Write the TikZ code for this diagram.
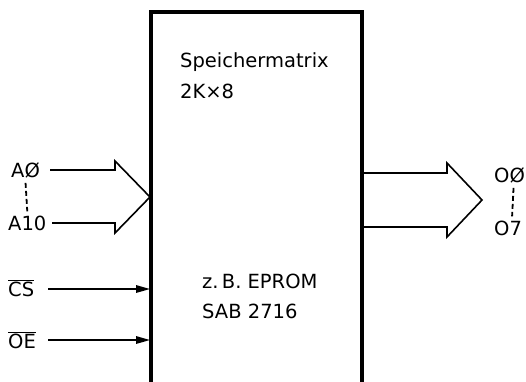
\documentclass[tikz,border=0pt]{standalone}
\usepackage{fontspec}
\setmainfont{DejaVu Sans}
\usepackage{tikz}
\usetikzlibrary{arrows.meta,positioning,calc}
\newcommand{\negsig}[1]{$\overline{\mbox{#1}}$}

\begin{document}
\begin{tikzpicture}[
  x=1pt, y=-1pt,
  every node/.style = {font=\fontsize{19.5}{22}\selectfont, inner sep=0pt},
  box/.style = {draw, line width=3.2pt},
  bus/.style = {draw, line width=1.6pt, line join=miter},
  wire/.style = {draw, line width=1.6pt, -{Triangle[length=14pt,width=7.5pt]}},
  dots/.style = {draw, line width=1.8pt, dash pattern=on 5pt off 3pt}
  ]
\useasboundingbox (0,0) rectangle (526,381);

% memory block, open at the bottom
\coordinate (bl) at (151,395);
\coordinate (tl) at (151,12);
\coordinate (tr) at (362,12);
\coordinate (br) at (362,395);
\draw[box] (bl) -- (tl) -- (tr) -- (br);

\node[anchor=base west] (title) at (180,67) {Speichermatrix};
\node[anchor=base west] (size) at (180,98) {2K×8};
\node[anchor=base west] (type) at (202,288) {z.\,B. EPROM};
\node[anchor=base west] (part) at (202,318) {SAB 2716};

% address inputs
\node[anchor=base west] (a0) at (11,177) {AØ};
\node[anchor=base west] (a10) at (8,230) {A10};
\draw[dots] ([yshift=-5pt]a0.south) -- ([yshift=4pt]a10.north);
\coordinate (inTip) at (150,197);
\draw[bus] (inTip) ++(-100,-27) -- ++(65,0) -- ++(0,-9) -- (inTip)
  -- ++(-35,36) -- ++(0,-10) -- ++(-63,0);

% control inputs
\node[anchor=base west] (cs) at (8,296) {\negsig{CS}};
\node[anchor=base west] (oe) at (8,348) {\negsig{OE}};
\coordinate (csL) at (48,289);
\coordinate (csR) at (150,289);
\coordinate (oeL) at (48,340);
\coordinate (oeR) at (150,340);
\draw[wire] (csL) -- (csR);
\draw[wire] (oeL) -- (oeR);

% data outputs
\coordinate (outTip) at (482,200);
\draw[bus] (outTip) ++(-119,-27) -- ++(84,0) -- ++(0,-10) -- (outTip)
  -- ++(-35,37) -- ++(0,-10) -- ++(-84,0);
\node[anchor=base west] (o0) at (494,182) {OØ};
\node[anchor=base west] (o7) at (494,235) {O7};
\draw[dots] ([yshift=-5pt,xshift=4pt]o0.south) -- ([yshift=4pt,xshift=4pt]o7.north);
\end{tikzpicture}
\end{document}
